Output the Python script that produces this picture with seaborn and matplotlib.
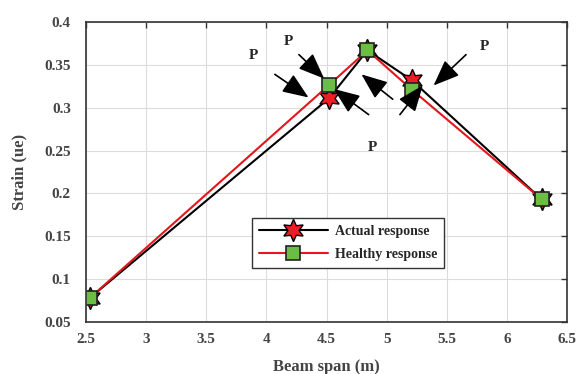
import seaborn as sns
import matplotlib.pyplot as plt
import pandas as pd

# Data
span = [2.53, 4.52, 4.84, 5.21, 6.29]
actual = [0.078, 0.311, 0.367, 0.332, 0.193]
healthy = [0.078, 0.3265, 0.367, 0.321, 0.193]

df = pd.DataFrame({"span": span, "actual": actual, "healthy": healthy})

sns.set_style("whitegrid", {"grid.color": "#dcdcdc", "axes.edgecolor": "#333333"})
plt.rcParams["font.family"] = ["Liberation Serif", "DejaVu Serif"]
plt.rcParams["font.weight"] = "bold"

fig = plt.figure(figsize=(5.78, 3.74), dpi=100)
ax = fig.add_axes([0.149, 0.139, 0.832, 0.802])

sns.lineplot(x="span", y="actual", data=df, ax=ax, color="black", lw=1.5,
             marker=(6, 1, 0), markersize=16, markerfacecolor="#ee1c24",
             markeredgecolor="black", markeredgewidth=1.0, label="Actual response")
sns.lineplot(x="span", y="healthy", data=df, ax=ax, color="#e3161c", lw=1.5,
             marker="s", markersize=10.5, markerfacecolor="#6cbd45",
             markeredgecolor="#222222", markeredgewidth=1.2, label="Healthy response")

ax.set_xlim(2.5, 6.5)
ax.set_ylim(0.05, 0.4)
ax.set_xticks([2.5, 3, 3.5, 4, 4.5, 5, 5.5, 6, 6.5])
ax.set_xticklabels(["2.5", "3", "3.5", "4", "4.5", "5", "5.5", "6", "6.5"])
ax.set_yticks([0.05, 0.1, 0.15, 0.2, 0.25, 0.3, 0.35, 0.4])
ax.set_yticklabels(["0.05", "0.1", "0.15", "0.2", "0.25", "0.3", "0.35", "0.4"])
ax.tick_params(direction="in", length=4, width=1, colors="#333333",
               labelcolor="#444444", labelsize=11, top=True, right=True)
ax.tick_params(axis="y", pad=11)
ax.tick_params(axis="x", pad=8)
for lab in ax.get_xticklabels() + ax.get_yticklabels():
    lab.set_fontweight("bold")
ax.set_xlabel("Beam span (m)", fontsize=12, fontweight="bold", color="#444444", labelpad=9)
ax.set_ylabel("Strain (ue)", fontsize=12, fontweight="bold", color="#444444", labelpad=12)
for s in ax.spines.values():
    s.set_linewidth(1.2)

# load arrows
arrows = [
    ((4.07, 0.339), (4.35, 0.312)),
    ((4.27, 0.362), (4.48, 0.334)),
    ((5.05, 0.310), (4.79, 0.339)),
    ((4.85, 0.292), (4.56, 0.322)),
    ((5.11, 0.292), (5.30, 0.326)),
    ((5.66, 0.362), (5.39, 0.326)),
]
for start, end in arrows:
    ax.annotate("", xy=end, xytext=start,
                arrowprops=dict(arrowstyle="-|>,head_length=1.0,head_width=0.4",
                                mutation_scale=16, color="black",
                                lw=1.2, shrinkA=0, shrinkB=0))
for x, y in [(3.89, 0.361), (4.18, 0.377), (5.81, 0.372), (4.88, 0.254)]:
    ax.text(x, y, "P", fontsize=11, fontweight="bold", ha="center", va="center")

leg = ax.legend(loc="upper left", bbox_to_anchor=(0.33, 0.37), fancybox=False,
                framealpha=1, edgecolor="#333333", prop={"weight": "bold", "size": 10},
                handlelength=5, borderpad=0.5, labelspacing=0.75, handletextpad=0.5)
leg.get_frame().set_linewidth(1.0)

plt.savefig("out.png", dpi=100)
